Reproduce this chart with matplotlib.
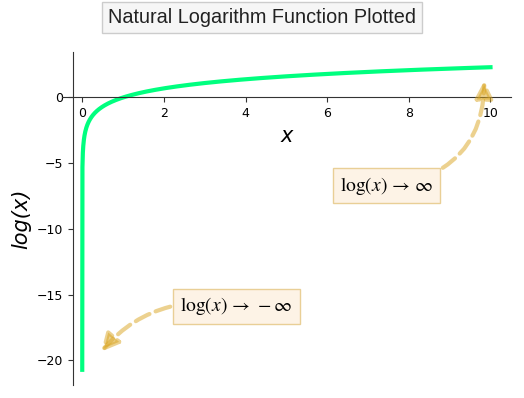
import numpy as np
import matplotlib
matplotlib.use("Agg")
import matplotlib.pyplot as plt

plt.rcParams['mathtext.fontset'] = 'stix'

# Data
x_min, x_max, n_points = 1e-9, 10, 2000
x = np.linspace(x_min, x_max, n_points)
y = np.log(x)

title = "Natural Logarithm Function Plotted"
ann_pos_text = r"$\log(x)\,\rightarrow\,\infty$"
ann_neg_text = r"$\log(x)\,\rightarrow\,-\infty$"
ann_pos_xy = (9.85, 1.5)
ann_pos_xytext = (7.45, -6.7)
ann_neg_xy = (0.42, -19.5)
ann_neg_xytext = (3.78, -15.9)

fig = plt.figure(figsize=(5.24, 3.98), dpi=100)
ax = fig.add_axes([0.118, 0.033, 0.857, 0.836])

ax.plot(x, y, color='springgreen', lw=3)
ax.set_xlim(-0.5, 10.5)
ax.set_ylim(-21.87, 3.45)

ax.spines['top'].set_visible(False)
ax.spines['right'].set_visible(False)
ax.spines['bottom'].set_position(('data', 0))
ax.spines['left'].set_position(('data', -0.22))
for s in ('bottom', 'left'):
    ax.spines[s].set_color('#333333')

ax.set_xticks([0, 2, 4, 6, 8, 10])
ax.set_yticks([0, -5, -10, -15, -20])
ax.tick_params(labelsize=9, colors='#333333', labelcolor='black')

ax.set_xlabel('x', fontsize=15, fontstyle='italic')
ax.set_ylabel('log(x)', fontsize=15, fontstyle='italic')

fig.text(0.5, 0.957, title, ha='center', va='center', fontsize=14.3,
         family='Liberation Sans', color='#222222',
         bbox=dict(boxstyle='square,pad=0.3', fc='#f6f6f6', ec='#cccccc'))

bbox_ann = dict(boxstyle='square,pad=0.35', fc='#fdf3e6', ec='#e9cf96')
arrow_kw = dict(arrowstyle='-|>', linestyle='--', lw=3, color='goldenrod', alpha=0.5,
                mutation_scale=26)

ax.annotate(ann_pos_text, xy=ann_pos_xy, xytext=ann_pos_xytext, fontsize=14,
            ha='center', va='center', bbox=bbox_ann,
            arrowprops=dict(connectionstyle='arc3,rad=0.45', **arrow_kw))
ax.annotate(ann_neg_text, xy=ann_neg_xy, xytext=ann_neg_xytext, fontsize=14,
            ha='center', va='center', bbox=bbox_ann,
            arrowprops=dict(connectionstyle='arc3,rad=0.3', **arrow_kw))

fig.savefig('out.png', dpi=100)
